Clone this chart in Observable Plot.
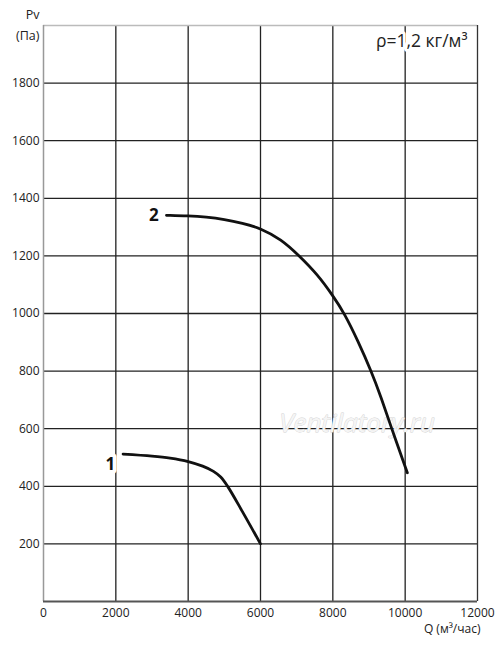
<!DOCTYPE html>
<html>
<head>
<meta charset="utf-8">
<script src="https://cdn.jsdelivr.net/npm/d3@7"></script>
<script src="https://cdn.jsdelivr.net/npm/@observablehq/plot@0.6"></script>
<style>
  html, body { margin: 0; padding: 0; background: #fff; }
  svg { font-family: "Open Sans", sans-serif; }
</style>
</head>
<body>
<div id="chart"></div>
<script>
const xTicks = [0, 2000, 4000, 6000, 8000, 10000, 12000];
const yTicks = [200, 400, 600, 800, 1000, 1200, 1400, 1600, 1800];

const curve1Q = [2200, 3000, 3500, 4000, 4400, 4700, 4900, 5100, 5500, 6000];
const curve1P = [512, 505, 498, 486, 470, 452, 432, 398, 312, 200];

const curve2Q = [3400, 4000, 4500, 5000, 5500, 6000, 6568, 7075, 7585, 8000, 8323, 8694, 9062, 9339, 9616, 10060];
const curve2P = [1341, 1339, 1335, 1327, 1314, 1296, 1258, 1200, 1134, 1062, 1000, 905, 800, 708, 604, 447];

const curveLabels = ["1", "2"];
const labelQ = [1850, 3050];
const labelP = [475, 1340];

const curve1 = curve1Q.map((q, i) => ({q, p: curve1P[i]}));
const curve2 = curve2Q.map((q, i) => ({q, p: curve2P[i]}));
const labels = curveLabels.map((t, i) => ({t, q: labelQ[i], p: labelP[i]}));

const chart = Plot.plot({
  width: 500,
  height: 645,
  marginLeft: 43,
  marginRight: 23,
  marginTop: 25,
  marginBottom: 44,
  style: {fontFamily: "'Open Sans', sans-serif", fontSize: "12px", color: "#222"},
  x: {domain: [0, 12000], ticks: xTicks, tickSize: 0, tickPadding: 7, tickFormat: d => String(d), label: null},
  y: {domain: [0, 2000], ticks: yTicks, tickSize: 0, tickPadding: 4, tickFormat: d => String(d), label: null},
  marks: [
    Plot.ruleX(xTicks.slice(1, -1), {stroke: "#222", strokeWidth: 1.3}),
    Plot.ruleY(yTicks, {stroke: "#222", strokeWidth: 1.3}),
    Plot.ruleY([2000], {stroke: "#bbb", strokeWidth: 1.5}),
    Plot.ruleX([0], {stroke: "#999", strokeWidth: 1.5}),
    Plot.ruleX([12000], {stroke: "#333", strokeWidth: 1.3}),
    Plot.ruleY([0], {stroke: "#555", strokeWidth: 2.2}),
    Plot.text(["Ventilatory.ru"], {x: [8670], y: [617], fontSize: 26, fontStyle: "italic", fill: "#f5f5f5", stroke: "#d2d2d2", strokeWidth: 0.8}),
    Plot.text(labels, {x: "q", y: "p", text: "t", fontSize: 17, fontWeight: "bold", fill: "#111", stroke: "white", strokeWidth: 8, paintOrder: "stroke"}),
    Plot.line(curve1, {x: "q", y: "p", curve: "catmull-rom", stroke: "#111", strokeWidth: 2.8}),
    Plot.line(curve2, {x: "q", y: "p", curve: "basis", stroke: "#111", strokeWidth: 2.8}),
    Plot.text(["ρ=1,2 кг/м³"], {x: [12000], y: [2000], dx: -10, dy: 16, textAnchor: "end", fontSize: 17.5, fill: "#222", stroke: "white", strokeWidth: 6, paintOrder: "stroke"}),
    Plot.text(["Pv"], {x: [0], y: [2000], dx: -4, dy: -11, textAnchor: "end", fontSize: 12.5, fill: "#222"}),
    Plot.text(["(Па)"], {x: [0], y: [2000], dx: -4, dy: 10, textAnchor: "end", fontSize: 12.5, fill: "#222"}),
    Plot.text(["Q (м³/час)"], {x: [12000], y: [0], dx: 3, dy: 28, textAnchor: "end", fontSize: 12, fill: "#222"})
  ]
});
document.getElementById("chart").appendChild(chart);
</script>
</body>
</html>
